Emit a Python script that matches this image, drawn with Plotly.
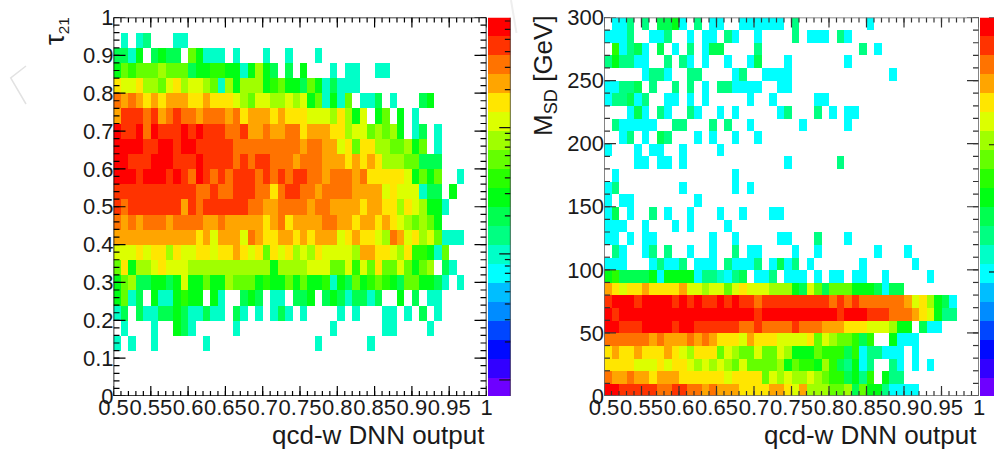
import math
import plotly.graph_objects as go

W, H = 994, 450

# colour levels, bottom of the palette to top
PALETTE = ["#6E00FF", "#3200FF", "#000AFF", "#0046FF", "#008CFF", "#00BEFF", "#00FFFF",
           "#00FFC8", "#00FF82", "#00FF50", "#00FF14", "#28FF00", "#64FF00", "#A0FF00",
           "#DCFF00", "#FFE600", "#FFA500", "#FF7300", "#FF3300", "#FF0000"]
# one character per bin, "." is an empty bin
CODES = {"c": 6, "t": 7, "S": 8, "s": 9, "G": 10, "g": 11, "L": 12, "l": 13, "y": 14,
         "Y": 15, "a": 16, "O": 17, "r": 18, "R": 19}

# tau21, top row (0.96-1.00) first, DNN output bins 0.50-1.00 in steps of 0.01
TAU_ROWS = [
    "",
    ".t.tS...tt",
    "sstG.sGss.LGttt.t...t..t...t",
    "GLgLLLlLLLsGGggGGtGlGs.s.G...t.tt..tt",
    "YyyYllLyYlyylLtlGlllGgLGGsLGtsttt",
    "OaOaYaYaaaYYaYYYylLyyllylyGLtGtL.tts.t...sG",
    "arrrOraOrOOaOOOaOYaaaYaYYYyyylYlGy.GL.G.t",
    "RrrRORrrrRrRrrrOOraaOaaOOYaaaYYlyyLlLlG.ts.t",
    "RRRRrrRRrRRrrrrrOOOOOOOOOaOOaayYLYYllLLlGL.t",
    "RRrrrRRRrrrRrrrrOrOrrOOOaOOOaaaYaYaYlllLLsss",
    "RRRrRRRrRrORrOrOrrrOrOrOrrOOaOOOaOYYYYYyGLGL..t",
    "rrrrrrrrrrrOOrOOrrrOOYOrrOOaOOOOaaaayYyyytss.G",
    "rOrrrrrrrarOrrrrrrOOaaOOOOaOOaaaaYaaYYlYylGGt",
    "OaOaOOOaOOOOaaOaaaaaYaOYaaaaOOaaYaaYaYylLlLG",
    "aaaaaaaaaaaYayaaayOaYYaaYaYaaayYaYYylOayYlyLttt",
    "yyyYyYYlYyyYYyYYaYyYLYyYlylYyyyylaaYYylYggGtL",
    "LYGllyYyyylllllllllllGllllyyyLLygyLYLLyLGLl.st",
    "GLlssGGsGyGGLGGlLLLGgGGLGLGGgtGsLGgLgGsLLGGst.t",
    "GLts.GttGgGG.Gt..sGs.tt.ssG.sGstssts..G.s.tt",
    "ts.sttssGsttstt.st.t.tst.t....t.t...tt.t.s.t",
    ".t...t..Gst.....t............t......tt....t",
    "t.t..t......t..............t......t",
    "",
    "",
    "",
]

# MSD, top row (290-300 GeV) first, same DNN output bins
MSD_ROWS = [
    ".ccS.S.ssGc.S.cc..cccccc.S.........c",
    "cccS..ccS..c.cc.Sc..c....S.ccc.Sc",
    ".gcSsc.s.c.S.css....S.............S.c",
    "SGSScc..S.Sc.c..c..cs...c.......c",
    ".....cSSc..SS....cS..cccc.............c",
    "ccSSs.S..S.S.c.SScccc..cc",
    "cSSscS..cc.c.c.....c..c.....cc",
    "...csc.Sc..Sc..c.c.....cS...S.c.cc",
    ".Sccccc..SS...S.S..c......c.....c",
    "..cS.c.sS...c.c..c..c",
    "c...c.cc..c....c",
    "....cc.cc.c.............c......S",
    ".c...............c",
    "cS........c......c.c",
    "c.cc........c",
    "cs.c..S.c..c...c..c...cc",
    "ccc..c...c.c....c",
    "cc.c.cc.......c..c.....cc...S...c",
    ".Sc..cS.S..c..c..S.cc....c..c.......c...c",
    "ccc...cSccS.ccc.ScccS.cscS.c......c......c",
    "GgssssGcGGGGcSStcSs.ccS.ccc.c.cc.cc..c.....c",
    "aYyYYaYYYYayylyyLyYyyylllGsyLsLLLGGGscss",
    "rRRRrRRRRrRrRrrRrRrrOrrrrrrrrrOrOrOOOOOOayYlGsc",
    "RrRRRRRRRRRRRRRRRRRRrRRRRRRRRRRrRRRrrrOOOaYyGSS",
    "RRrrrRRRRrRRrrrrrrOOrOOOOrOOOaaaYYYyyylGG.scc",
    "OOOOOOaOaaaOaOaYYYyaYYYyyyyYLylLLgsg..Gccc",
    "YaYYaYYYaYylYYYLylLLyLLylGGGLgggsgcSSccc.c",
    "YYYYyyyYyYYylylylLyLLLLlGLggGlgsSGcS..Sc.c.c",
    "OaaOaaYaaaYYYYYYyYYYYLylyllylLggsGSg.GSS",
    "RRrrrrrOOrrOOaOaaaYYYYaaYyalllLLlsLGGScccc",
]

X_TICKS = [0.5, 0.55, 0.6, 0.65, 0.7, 0.75, 0.8, 0.85, 0.9, 0.95, 1]
X_LABELS = ["0.5", "0.55", "0.6", "0.65", "0.7", "0.75", "0.8", "0.85", "0.9", "0.95", "1"]
X_MINOR = [0.5 + i * 0.01 for i in range(51)]
TAU_TICKS = [0, 0.1, 0.2, 0.3, 0.4, 0.5, 0.6, 0.7, 0.8, 0.9, 1]
TAU_LABELS = ["0", "0.1", "0.2", "0.3", "0.4", "0.5", "0.6", "0.7", "0.8", "0.9", "1"]
TAU_MINOR = [i * 0.02 for i in range(51)]
MSD_TICKS = [0, 50, 100, 150, 200, 250, 300]
MSD_LABELS = ["0", "50", "100", "150", "200", "250", "300"]
MSD_MINOR = [i * 10 for i in range(31)]

# log z ranges of the two palettes
LEFT_Z = (0.746, 746.0)
RIGHT_Z = (0.106, 100.0)
LEFT_MAJOR = [1, 10, 100]
LEFT_MINOR = [2, 3, 4, 5, 6, 7, 8, 9, 20, 30, 40, 50, 60, 70, 80, 90, 200, 300, 400, 500, 600, 700]
RIGHT_MAJOR = [1, 10, 100]


def matrix(rows):
    out = []
    for row in reversed(rows):
        assert len(row) <= 50, row
        out.append([None if ch == "." else CODES[ch] + 0.5 for ch in row.ljust(50, ".")])
    return out


def level_pos(v, zr):
    return 20 * (math.log10(v) - math.log10(zr[0])) / (math.log10(zr[1]) - math.log10(zr[0]))


scale = []
for i, col in enumerate(PALETTE):
    scale += [[i / 20, col], [(i + 1) / 20, col]]


def px_x(x):
    return x / W


def px_y(y):
    return 1 - y / H


FONT = "Liberation Sans, Arial, sans-serif"
INK = "#1a1a1a"
common = dict(zmin=0, zmax=20, colorscale=scale, showscale=False, hoverongaps=False)
levels = [[i + 0.5] for i in range(20)]

fig = go.Figure()
fig.add_trace(go.Heatmap(z=matrix(TAU_ROWS), x0=0.505, dx=0.01, y0=0.02, dy=0.04,
                         xaxis="x", yaxis="y", **common))
fig.add_trace(go.Heatmap(z=matrix(MSD_ROWS), x0=0.505, dx=0.01, y0=5, dy=10,
                         xaxis="x2", yaxis="y2", **common))
fig.add_trace(go.Heatmap(z=levels, x=[0], y=[i + 0.5 for i in range(20)],
                         xaxis="x3", yaxis="y3", **common))
fig.add_trace(go.Heatmap(z=levels, x=[0], y=[i + 0.5 for i in range(20)],
                         xaxis="x4", yaxis="y4", **common))


def xaxis(domain, anchor):
    return dict(domain=domain, anchor=anchor, range=[0.5, 1], showgrid=False, zeroline=False,
                showline=False, ticks="",
                tickmode="array", tickvals=X_TICKS, ticktext=X_LABELS, tickangle=0,
                ticklabelstandoff=-4,
                tickfont=dict(family=FONT, size=22, color=INK))


def yaxis(domain, anchor, rng, vals, text):
    return dict(domain=domain, anchor=anchor, range=rng, showgrid=False, zeroline=False,
                showline=False, ticks="",
                tickmode="array", tickvals=vals, ticktext=text,
                ticklabelstandoff=-1,
                tickfont=dict(family=FONT, size=22, color=INK))


ydom = [px_y(396), px_y(17.5)]
PLOT_H = 378.5
hidden = dict(visible=False, range=[-0.5, 0.5])


def text(x, y, s, size, angle=0, xanchor="center", yanchor="middle"):
    return dict(xref="paper", yref="paper", x=px_x(x), y=px_y(y), text=s, showarrow=False,
                textangle=angle, xanchor=xanchor, yanchor=yanchor,
                font=dict(family=FONT, size=size, color=INK))


def stroke(pts, color, width):
    path = "M " + " L ".join(f"{px_x(a):.5f} {px_y(b):.5f}" for a, b in pts)
    return dict(type="path", xref="paper", yref="paper", path=path,
                line=dict(color=color, width=width), layer="below")


def add_lines(xa, ya, xs, ys, color, width):
    fig.add_trace(go.Scatter(x=xs, y=ys, mode="lines", xaxis=xa, yaxis=ya, cliponaxis=False,
                             hoverinfo="skip", line=dict(color=color, width=width)))


def frame_and_ticks(xa, ya, plot_w, yr, y_major, y_minor, frame, tick):
    xs, ys = [], []
    for vals, ln in ((X_MINOR, 5), (X_TICKS, 10)):
        d = ln / PLOT_H * (yr[1] - yr[0])
        for v in vals:
            xs += [v, v, None, v, v, None]
            ys += [yr[0], yr[0] + d, None, yr[1], yr[1] - d, None]
    for vals, ln in ((y_minor, 6), (y_major, 12)):
        d = ln / plot_w * 0.5
        for v in vals:
            xs += [0.5, 0.5 + d, None, 1, 1 - d, None]
            ys += [v, v, None, v, v, None]
    add_lines(xa, ya, xs, ys, tick, 1.2)
    add_lines(xa, ya, [0.5, 1, 1, 0.5, 0.5], [yr[0], yr[0], yr[1], yr[1], yr[0]], frame, 1.6)


frame_and_ticks("x", "y", 373, (0, 1), TAU_TICKS, TAU_MINOR, "#000000", "#000000")
frame_and_ticks("x2", "y2", 375, (0, 300), MSD_TICKS, MSD_MINOR, "#666666", "#333333")

# palette axes: ticks on the right edge of each colour strip
xs3, ys3 = [0.5, 0.5, None], [0, 20, None]
for v in LEFT_MAJOR:
    xs3 += [0.0, 0.5, None]
    ys3 += [level_pos(v, LEFT_Z), level_pos(v, LEFT_Z), None]
for v in LEFT_MINOR:
    xs3 += [0.25, 0.5, None]
    ys3 += [level_pos(v, LEFT_Z), level_pos(v, LEFT_Z), None]
add_lines("x3", "y3", xs3, ys3, "#111111", 1.2)
xs4, ys4 = [], []
for v in RIGHT_MAJOR:
    xs4 += [0.14, 0.5, None]
    ys4 += [level_pos(v, RIGHT_Z), level_pos(v, RIGHT_Z), None]
add_lines("x4", "y4", xs4, ys4, "#111111", 1.2)

fig.update_layout(
    width=W, height=H, margin=dict(l=0, r=0, t=0, b=0, autoexpand=False),
    paper_bgcolor="white", plot_bgcolor="white", showlegend=False,
    xaxis=xaxis([px_x(113.5), px_x(486.5)], "y"),
    yaxis=yaxis(ydom, "x", [0, 1], TAU_TICKS, TAU_LABELS),
    xaxis2=xaxis([px_x(604), px_x(979)], "y2"),
    yaxis2=yaxis(ydom, "x2", [0, 300], MSD_TICKS, MSD_LABELS),
    xaxis3=dict(domain=[px_x(488), px_x(510.5)], anchor="y3", **hidden),
    yaxis3=dict(domain=ydom, anchor="x3", visible=False, range=[0, 20]),
    xaxis4=dict(domain=[px_x(980), 1], anchor="y4", **hidden),
    yaxis4=dict(domain=ydom, anchor="x4", visible=False, range=[0, 20]),
    annotations=[
        text(487, 435, "qcd-w DNN output", 26, xanchor="right"),
        text(979, 435, "qcd-w DNN output", 26, xanchor="right"),
        text(56, 31, '<span style="font-size:27px">τ</span><sub>21</sub>', 22, angle=-90),
        text(545, 76, "M<sub>SD</sub> [GeV]", 26, angle=-90),
    ],
    shapes=[
        stroke([(26, 66), (10.7, 78), (26, 104)], "#e2e2e2", 1.5),
        stroke([(511, 0), (516.5, 33)], "#eeeeee", 2),
    ],
)

fig.write_html("out.html", config=dict(displayModeBar=False),
               post_script="document.body.style.margin='0';document.body.style.overflow='hidden';")
